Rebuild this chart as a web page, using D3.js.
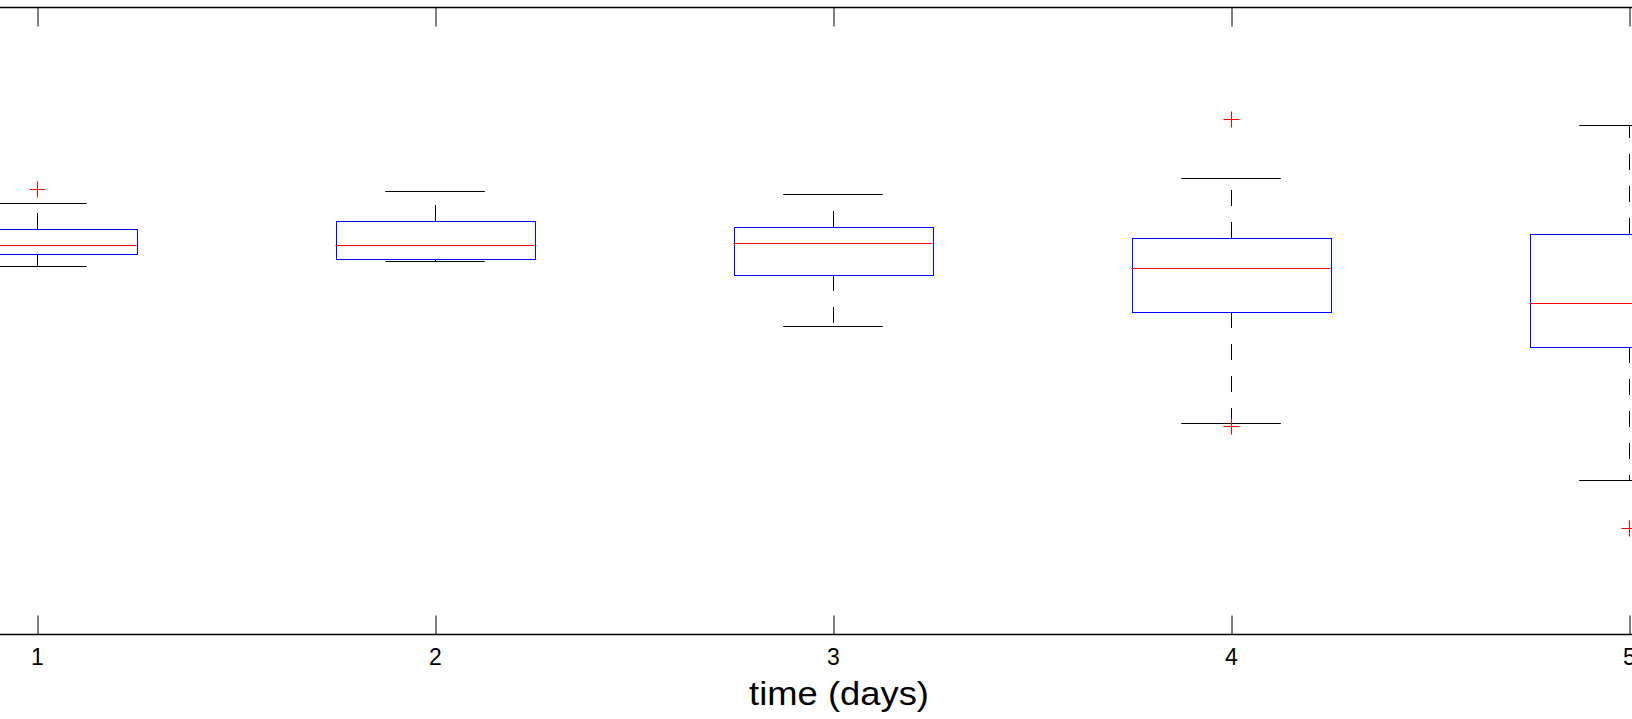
<!DOCTYPE html>
<html>
<head>
<meta charset="utf-8">
<script src="https://cdn.jsdelivr.net/npm/d3@7"></script>
<style>
  html, body { margin: 0; padding: 0; background: #fff; overflow: hidden; }
  svg { display: block; }
  text { font-family: "Liberation Sans", Arial, Helvetica, sans-serif; fill: #000; }
</style>
</head>
<body>
<svg id="chart" width="1632" height="719"></svg>
<script>
// ---- data (y units are arbitrary) ----
const days        = [1, 2, 3, 4, 5];
const tickLabels  = ["1", "2", "3", "4", "5"];
const whiskerLow  = [3.68, 3.73, 3.08, 2.11, 1.54];
const q1          = [3.80, 3.75, 3.59, 3.22, 2.87];
const medians     = [3.89, 3.89, 3.91, 3.66, 3.31];
const q3          = [4.05, 4.13, 4.07, 3.96, 4.00];
const whiskerHigh = [4.31, 4.43, 4.40, 4.56, 5.09];
const outliers    = [[4.45], [], [], [5.15, 2.08], [1.06]];
const xLabel = "time (days)";

// ---- layout ----
const plotTop = 7, plotBottom = 634;
const svg = d3.select("#chart");

// x axis spans 0.5..5.5 ; the view shows only part of it
const x = d3.scaleLinear().domain([0.5, 5.5]).range([-162, 1828]);
const y = d3.scaleLinear().domain([0, 6.27]).range([plotBottom, plotTop]);

const boxHalf = 0.25;   // box width 0.5 units
const capHalf = 0.125;  // cap width 0.25 units
const tickLen = 19;

const g = svg.append("g");

// axes box lines (top & bottom)
g.append("line").attr("x1", x(0.5)).attr("x2", x(5.5))
  .attr("y1", plotTop + 0.5).attr("y2", plotTop + 0.5)
  .attr("stroke", "#000").attr("stroke-width", 1.3);
g.append("line").attr("x1", x(0.5)).attr("x2", x(5.5))
  .attr("y1", plotBottom + 0.5).attr("y2", plotBottom + 0.5)
  .attr("stroke", "#000").attr("stroke-width", 1.3);

// ticks: bottom and top (inward)
const bottomAxis = d3.axisBottom(x).tickValues(days).tickFormat("")
  .tickSizeInner(-tickLen).tickSizeOuter(0);
const ba = g.append("g").attr("transform", `translate(0.5,${plotBottom + 0.5})`).call(bottomAxis);
ba.select(".domain").remove();
ba.selectAll("line").attr("stroke", "#000").attr("stroke-width", 1);

const topAxis = d3.axisTop(x).tickValues(days).tickFormat("")
  .tickSizeInner(-tickLen).tickSizeOuter(0);
const ta = g.append("g").attr("transform", `translate(0.5,${plotTop + 0.5})`).call(topAxis);
ta.select(".domain").remove();
ta.selectAll("line").attr("stroke", "#000").attr("stroke-width", 1);

// tick labels
g.selectAll("text.tl").data(days).join("text").attr("class", "tl")
  .attr("x", d => x(d) + 0.5).attr("y", 665)
  .attr("text-anchor", "middle")
  .style("font-size", "23px")
  .text((d, i) => tickLabels[i]);

// ---- boxes ----
const data = days.map((d, i) => ({
  d, lo: whiskerLow[i], q1: q1[i], med: medians[i], q3: q3[i], hi: whiskerHigh[i], out: outliers[i]
}));

const bx = g.selectAll("g.box").data(data).join("g").attr("class", "box");

// whiskers (dashed, drawn from box outward)
bx.append("line")
  .attr("x1", b => Math.round(x(b.d)) + 0.5).attr("x2", b => Math.round(x(b.d)) + 0.5)
  .attr("y1", b => y(b.q3)).attr("y2", b => y(b.hi))
  .attr("stroke", "#000").attr("stroke-width", 1).attr("stroke-dasharray", "16,16");
bx.append("line")
  .attr("x1", b => Math.round(x(b.d)) + 0.5).attr("x2", b => Math.round(x(b.d)) + 0.5)
  .attr("y1", b => y(b.q1)).attr("y2", b => y(b.lo))
  .attr("stroke", "#000").attr("stroke-width", 1).attr("stroke-dasharray", "16,16");

// caps
bx.append("line")
  .attr("x1", b => x(b.d - capHalf)).attr("x2", b => x(b.d + capHalf))
  .attr("y1", b => Math.round(y(b.hi)) + 0.5).attr("y2", b => Math.round(y(b.hi)) + 0.5)
  .attr("stroke", "#000").attr("stroke-width", 1);
bx.append("line")
  .attr("x1", b => x(b.d - capHalf)).attr("x2", b => x(b.d + capHalf))
  .attr("y1", b => Math.round(y(b.lo)) + 0.5).attr("y2", b => Math.round(y(b.lo)) + 0.5)
  .attr("stroke", "#000").attr("stroke-width", 1);

// box
bx.append("rect")
  .attr("x", b => Math.round(x(b.d - boxHalf)) + 0.5)
  .attr("y", b => Math.round(y(b.q3)) + 0.5)
  .attr("width", b => Math.round(x(b.d + boxHalf)) - Math.round(x(b.d - boxHalf)))
  .attr("height", b => Math.round(y(b.q1)) - Math.round(y(b.q3)))
  .attr("fill", "none").attr("stroke", "#0000ff").attr("stroke-width", 1);

// median
bx.append("line")
  .attr("x1", b => x(b.d - boxHalf)).attr("x2", b => x(b.d + boxHalf))
  .attr("y1", b => Math.round(y(b.med)) + 0.5).attr("y2", b => Math.round(y(b.med)) + 0.5)
  .attr("stroke", "#ff0000").attr("stroke-width", 1);

// outliers (+ markers)
const pts = data.flatMap(b => b.out.map(v => ({ d: b.d, v })));
const ps = 8;
const og = g.selectAll("g.out").data(pts).join("g").attr("class", "out")
  .attr("transform", p => `translate(${Math.round(x(p.d)) + 0.5},${Math.round(y(p.v)) + 0.5})`);
og.append("line").attr("x1", -ps).attr("x2", ps).attr("y1", 0).attr("y2", 0)
  .attr("stroke", "#ff0000").attr("stroke-width", 1);
og.append("line").attr("x1", 0).attr("x2", 0).attr("y1", -ps).attr("y2", ps)
  .attr("stroke", "#ff0000").attr("stroke-width", 1);

// x label
const lx = x(3) + 6;
g.append("text")
  .attr("transform", `translate(${lx},705) scale(1.07,1)`)
  .attr("text-anchor", "middle").style("font-size", "34px").text(xLabel);
</script>
</body>
</html>
